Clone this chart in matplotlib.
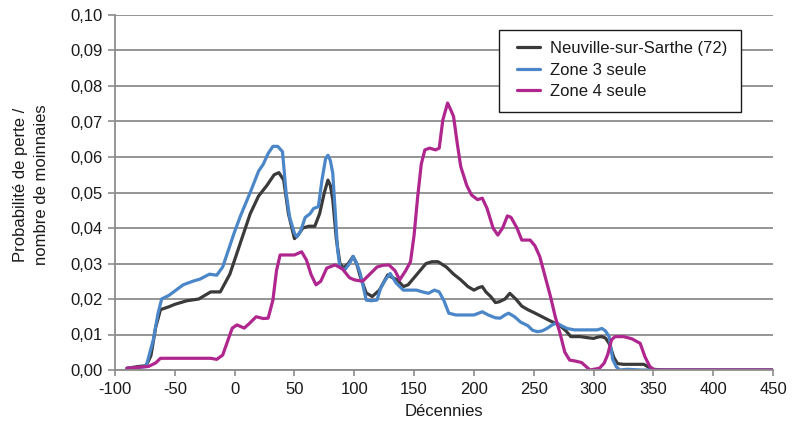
import matplotlib
matplotlib.use('Agg')
import matplotlib.pyplot as plt
from matplotlib.patches import Rectangle
from matplotlib.ticker import FuncFormatter, MultipleLocator

plt.rcParams['font.family'] = ['Liberation Sans', 'DejaVu Sans']
plt.rcParams['axes.unicode_minus'] = False

# ------------------------------------------------------------
# Données
# ------------------------------------------------------------
neuville_x = [
    -90, -80, -74, -70, -66, -62, -55, -50, -40, -30,
    -20, -12, -4, 0, 5, 13, 20, 27, 33, 37,
    41, 45, 50, 53, 57, 62, 67, 71, 75, 78,
    80, 82, 85, 88, 91, 95, 99, 102, 105, 110,
    115, 121, 128, 132, 136, 141, 145, 150, 155, 160,
    165, 170, 177, 183, 189, 195, 200, 204, 207, 210,
    214, 218, 221, 226, 230, 235, 240, 245, 250, 257,
    264, 272, 277, 281, 289, 295, 300, 304, 307, 310,
    313, 317, 320, 325, 335, 342, 346, 349, 360, 450,
]
neuville_y = [
    0.0005, 0.001, 0.0012, 0.004, 0.012, 0.017, 0.0178, 0.0185, 0.0195, 0.020,
    0.022, 0.022, 0.027, 0.031, 0.036, 0.044, 0.049, 0.052, 0.055, 0.0556,
    0.0535, 0.044, 0.037, 0.038, 0.040, 0.0405, 0.0405, 0.044, 0.050, 0.0535,
    0.052, 0.048, 0.037, 0.030, 0.0287, 0.030, 0.032, 0.030, 0.0263, 0.0217,
    0.0207, 0.0225, 0.0268, 0.026, 0.0254, 0.0235, 0.024, 0.026, 0.028, 0.030,
    0.0305, 0.0305, 0.029, 0.027, 0.0254, 0.0235, 0.0225, 0.0232, 0.0235, 0.022,
    0.0207, 0.019, 0.0192, 0.020, 0.0216, 0.020, 0.018, 0.017, 0.0162, 0.015,
    0.0138, 0.0125, 0.011, 0.0094, 0.0094, 0.0091, 0.0089, 0.0093, 0.0094, 0.009,
    0.0075, 0.0035, 0.0018, 0.0016, 0.0016, 0.0016, 0.0008, 0.0002, 0, 0,
]

zone3_x = [
    -90, -80, -74, -68, -64, -61, -55, -51, -43, -35,
    -29, -21, -15, -10, -4, 0, 5, 13, 20, 24,
    28, 32, 36, 40, 43, 46, 50, 52, 55, 59,
    63, 66, 70, 73, 76, 78, 80, 82, 84, 86,
    88, 92, 96, 99, 102, 105, 110, 114, 119, 122,
    126, 130, 135, 141, 147, 152, 157, 162, 167, 171,
    175, 179, 185, 190, 195, 200, 204, 207, 212, 218,
    222, 226, 229, 234, 239, 245, 249, 253, 257, 261,
    265, 269, 273, 278, 284, 290, 296, 303, 307, 310,
    313, 316, 319, 322, 328, 340, 450,
]
zone3_y = [
    0.0005, 0.0007, 0.001, 0.0085, 0.016, 0.020, 0.021, 0.022, 0.024, 0.025,
    0.0256, 0.027, 0.0267, 0.029, 0.035, 0.039, 0.0435, 0.050, 0.056, 0.058,
    0.061, 0.063, 0.063, 0.0615, 0.050, 0.043, 0.0385, 0.0375, 0.039, 0.043,
    0.044, 0.0455, 0.046, 0.0535, 0.0595, 0.0605, 0.059, 0.0555, 0.045, 0.034,
    0.029, 0.0282, 0.030, 0.032, 0.030, 0.0272, 0.0197, 0.0195, 0.0197, 0.023,
    0.0254, 0.0272, 0.0245, 0.0225, 0.0225, 0.0225, 0.022, 0.0216, 0.0225, 0.022,
    0.0195, 0.016, 0.0155, 0.0155, 0.0155, 0.0155, 0.016, 0.0164, 0.0155, 0.0147,
    0.0146, 0.0155, 0.016, 0.015, 0.0135, 0.0125, 0.0112, 0.0108, 0.011, 0.0117,
    0.0126, 0.0133, 0.0125, 0.0117, 0.0113, 0.0113, 0.0113, 0.0113, 0.0117, 0.011,
    0.0094, 0.003, 0.0009, 0.0, 0.0002, 0.0, 0.0,
]

zone4_x = [
    -90, -72, -66, -62, -50, -30, -20, -15, -10, -6,
    -2, 2, 8, 12, 18, 24, 28, 32, 35, 38,
    44, 50, 56, 60, 64, 68, 72, 77, 84, 90,
    96, 100, 107, 113, 119, 124, 129, 134, 138, 143,
    147, 150, 153, 156, 159, 163, 168, 171, 174, 178,
    181, 183, 186, 189, 194, 198, 203, 207, 211, 216,
    220, 224, 228, 231, 236, 240, 247, 251, 255, 259,
    264, 268, 272, 276, 280, 285, 290, 297, 305, 309,
    312, 315, 318, 325, 332, 339, 343, 347, 351, 450,
]
zone4_y = [
    0.0005, 0.001, 0.002, 0.0033, 0.0033, 0.0033, 0.0033, 0.003, 0.0042, 0.008,
    0.0118, 0.0127, 0.0118, 0.013, 0.015, 0.0145, 0.0146, 0.0197, 0.028, 0.0324,
    0.0324, 0.0324, 0.0333, 0.031, 0.0268, 0.024, 0.025, 0.0287, 0.0296, 0.0285,
    0.026, 0.0254, 0.025, 0.027, 0.029, 0.0295, 0.0296, 0.028, 0.0254, 0.028,
    0.0305, 0.038, 0.0488, 0.058, 0.062, 0.0625, 0.062, 0.0625, 0.0704, 0.0752,
    0.073, 0.0714, 0.064, 0.0573, 0.052, 0.0493, 0.048, 0.0484, 0.0455, 0.040,
    0.038, 0.040, 0.0434, 0.043, 0.040, 0.0366, 0.0366, 0.035, 0.032, 0.027,
    0.0207, 0.015, 0.0103, 0.005, 0.0028, 0.0025, 0.0021, 0.0, 0.0005, 0.002,
    0.0045, 0.0085, 0.0094, 0.0094, 0.0088, 0.0075, 0.0037, 0.001, 0.0, 0.0,
]

series_labels = ['Neuville-sur-Sarthe (72)', 'Zone 3 seule', 'Zone 4 seule']
series_colors = ['#3a3a3a', '#4a86c8', '#b0268f']

# ------------------------------------------------------------
# Figure
# ------------------------------------------------------------
W, H = 794, 421
fig = plt.figure(figsize=(W / 100, H / 100), dpi=100)
ax = fig.add_axes([115 / W, 1 - 370 / H, 658 / W, 355 / H])

grid_col = '#8c8c8c'
txt_col = '#1a1a1a'
ax.yaxis.grid(True, color=grid_col, linewidth=1.3)
ax.set_axisbelow(True)

handles = []
for (xs, ys), lab, col in zip(
        [(neuville_x, neuville_y), (zone3_x, zone3_y), (zone4_x, zone4_y)],
        series_labels, series_colors):
    ln, = ax.plot(xs, ys, color=col, linewidth=2.3, label=lab,
                  solid_joinstyle='round', solid_capstyle='round')
    handles.append(ln)

ax.set_xlim(-100, 450)
ax.set_ylim(0, 0.10)
ax.xaxis.set_major_locator(MultipleLocator(50))
ax.yaxis.set_major_locator(MultipleLocator(0.01))
ax.yaxis.set_major_formatter(FuncFormatter(lambda v, p: f'{v:.2f}'.replace('.', ',')))

for s in ['top', 'right']:
    ax.spines[s].set_visible(False)
for s in ['left', 'bottom']:
    ax.spines[s].set_color(grid_col)
    ax.spines[s].set_linewidth(1.3)

ax.tick_params(axis='both', colors=grid_col, labelcolor=txt_col,
               labelsize=12, width=1.2)
ax.tick_params(axis='x', length=4, pad=5)
ax.tick_params(axis='y', length=5, pad=4)

ax.set_xlabel('Décennies', fontsize=12, color=txt_col, labelpad=5)
fig.text(31.5 / W, 1 - 185 / H, 'Probabilité de perte /\nnombre de moinnaies',
         rotation=90, ha='center', va='center', multialignment='center',
         fontsize=12, color=txt_col, linespacing=1.5)

# cadre de légende (coordonnées figure)
frame = Rectangle((499 / W, 1 - 112 / H), 242 / W, 82 / H,
                  transform=fig.transFigure, facecolor='white',
                  edgecolor=txt_col, linewidth=1.0, zorder=5)
fig.patches.append(frame)

leg = fig.legend(handles, series_labels, loc='upper left',
                 bbox_to_anchor=(517 / W, 1 - 41 / H),
                 bbox_transform=fig.transFigure,
                 fontsize=12, frameon=False, handlelength=1.4,
                 labelspacing=0.4, borderpad=0, borderaxespad=0,
                 handletextpad=0.6)
leg.set_zorder(6)
for t in leg.get_texts():
    t.set_color(txt_col)

fig.savefig('out.png', dpi=100)
